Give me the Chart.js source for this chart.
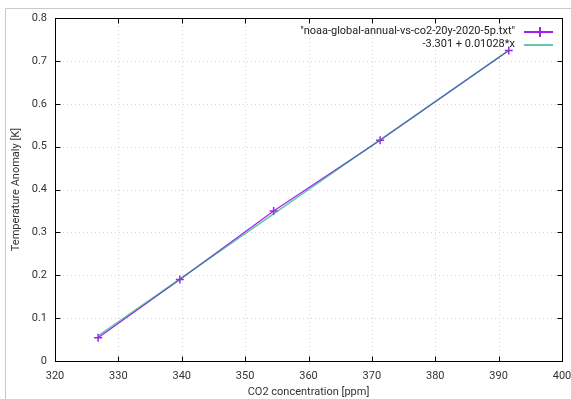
<!DOCTYPE html>
<html>
<head>
<meta charset="utf-8">
<script src="https://cdn.jsdelivr.net/npm/chart.js@4.4.1/dist/chart.umd.min.js"></script>
<style>
  html, body { margin: 0; padding: 0; background: #fff; }
  #wrap { position: relative; width: 571px; height: 399px; }
</style>
</head>
<body>
<div id="wrap"><canvas id="myChart" width="571" height="399"></canvas></div>
<script>
"use strict";

// 20-year means: CO2 (ppm) against NOAA global temperature anomaly (K)
const co2 = [326.8, 339.7, 354.5, 371.3, 391.6];
const anomaly = [0.054, 0.19, 0.35, 0.515, 0.724];

// linear fit  f(x) = a + b*x
const fitA = -3.301;
const fitB = 0.01028;

const xTicks = [320, 330, 340, 350, 360, 370, 380, 390, 400];
const yTicks = [0, 0.1, 0.2, 0.3, 0.4, 0.5, 0.6, 0.7, 0.8];

const dataLabel = '"noaa-global-annual-vs-co2-20y-2020-5p.txt"';
const fitLabel = '-3.301 + 0.01028*x';

const purple = 'rgb(160, 32, 240)';
const teal = 'rgba(0, 158, 115, 0.6)';

const xFirst = co2[0];
const xLast = co2[co2.length - 1];
const fitPoints = [
    {x: xFirst, y: fitA + fitB * xFirst},
    {x: xLast, y: fitA + fitB * xLast}
];

const FONT = 'Roboto, "DejaVu Sans", sans-serif';

// gnuplot-like frame: dotted grid, box border, inward ticks, legend
const gnuplotFrame = {
    id: 'gnuplotFrame',
    beforeDraw(chart) {
        const c = chart.ctx;
        // outer window edge
        c.save();
        c.strokeStyle = '#c8c8c8';
        c.lineWidth = 1;
        c.beginPath();
        c.moveTo(5.5, 399);
        c.lineTo(5.5, 8.5);
        c.lineTo(571, 8.5);
        c.stroke();
        c.restore();
    },
    beforeDatasetsDraw(chart) {
        const c = chart.ctx;
        const {left, right, top, bottom} = chart.chartArea;
        const xs = chart.scales.x, ys = chart.scales.y;
        c.save();
        c.strokeStyle = '#d4d4d4';
        c.lineWidth = 1;
        c.setLineDash([1, 3]);
        xTicks.slice(1, -1).forEach(v => {
            const px = Math.round(xs.getPixelForValue(v)) + 0.5;
            c.beginPath();
            c.moveTo(px, top);
            c.lineTo(px, bottom);
            c.stroke();
        });
        yTicks.slice(1, -1).forEach(v => {
            const py = Math.round(ys.getPixelForValue(v)) + 0.5;
            c.beginPath();
            c.moveTo(left, py);
            c.lineTo(right, py);
            c.stroke();
        });
        c.restore();
    },
    afterDatasetsDraw(chart) {
        const c = chart.ctx;
        const {left, right, top, bottom} = chart.chartArea;
        const xs = chart.scales.x, ys = chart.scales.y;
        const L = Math.round(left) + 0.5, R = Math.round(right) + 0.5;
        const T = Math.round(top) + 0.5, B = Math.round(bottom) + 0.5;
        c.save();
        c.setLineDash([]);
        c.strokeStyle = '#000';
        c.lineWidth = 1;
        c.strokeRect(L, T, R - L, B - T);
        const tick = 5;
        c.beginPath();
        xTicks.forEach(v => {
            const px = Math.round(xs.getPixelForValue(v)) + 0.5;
            c.moveTo(px, B); c.lineTo(px, B - tick);
            c.moveTo(px, T); c.lineTo(px, T + tick);
        });
        yTicks.forEach(v => {
            const py = Math.round(ys.getPixelForValue(v)) + 0.5;
            c.moveTo(L, py); c.lineTo(L + tick, py);
            c.moveTo(R, py); c.lineTo(R - tick, py);
        });
        c.stroke();

        // key, top right
        const textRight = 515, s0 = 524, s1 = 553;
        const rows = [31, 44];
        c.font = '11px ' + FONT;
        c.fillStyle = '#222';
        c.textAlign = 'right';
        c.textBaseline = 'middle';
        c.fillText(dataLabel, textRight, rows[0]);
        c.fillText(fitLabel, textRight, rows[1]);

        const mx = Math.round((s0 + s1) / 2);
        c.fillStyle = purple;
        c.fillRect(s0, rows[0], s1 - s0, 2);
        c.fillRect(mx, rows[0] - 4, 2, 10);

        c.fillStyle = teal;
        c.fillRect(s0, rows[1], s1 - s0, 2);
        c.restore();
    }
};

const ctx = document.getElementById('myChart').getContext('2d');
const chart = new Chart(ctx, {
    type: 'scatter',
    data: {
        datasets: [{
                label: fitLabel,
                data: fitPoints,
                showLine: true,
                borderColor: teal,
                borderWidth: 1.5,
                pointRadius: 0,
                order: 0
            },
            {
                label: dataLabel,
                data: co2.map((x, i) => ({x: x, y: anomaly[i]})),
                showLine: true,
                borderColor: purple,
                backgroundColor: purple,
                borderWidth: 1.2,
                pointStyle: 'cross',
                pointRadius: 4,
                pointBorderWidth: 1.5,
                order: 1
            }
        ]
    },
    options: {
        responsive: false,
        animation: false,
        events: [],
        layout: {
            padding: {left: 0, right: 9, top: 18, bottom: 0}
        },
        plugins: {
            legend: {display: false},
            tooltip: {enabled: false}
        },
        scales: {
            x: {
                type: 'linear',
                min: 320,
                max: 400,
                afterBuildTicks: s => { s.ticks = xTicks.map(v => ({value: v})); },
                afterFit: s => {
                    s.height = 38;
                    s.paddingLeft = 0;
                    s.paddingRight = 0;
                },
                grid: {display: false, drawTicks: false, tickLength: 0},
                border: {display: false},
                ticks: {
                    padding: 9,
                    color: '#333',
                    font: {family: FONT, size: 11},
                    maxRotation: 0
                },
                title: {
                    display: true,
                    text: 'CO2 concentration [ppm]',
                    color: '#333',
                    font: {family: FONT, size: 11},
                    padding: {top: 0, bottom: 0}
                }
            },
            y: {
                type: 'linear',
                min: 0,
                max: 0.8,
                afterBuildTicks: s => { s.ticks = yTicks.map(v => ({value: v})); },
                afterFit: s => {
                    s.width = 55;
                    s.paddingTop = 0;
                    s.paddingBottom = 0;
                },
                grid: {display: false, drawTicks: false, tickLength: 0},
                border: {display: false},
                ticks: {
                    padding: 8,
                    color: '#333',
                    font: {family: FONT, size: 11},
                    callback: v => String(v)
                },
                title: {
                    display: true,
                    text: 'Temperature Anomaly [K]',
                    color: '#333',
                    font: {family: FONT, size: 11},
                    padding: {top: 10, bottom: 0}
                }
            }
        }
    },
    plugins: [gnuplotFrame]
});
</script>
</body>
</html>
